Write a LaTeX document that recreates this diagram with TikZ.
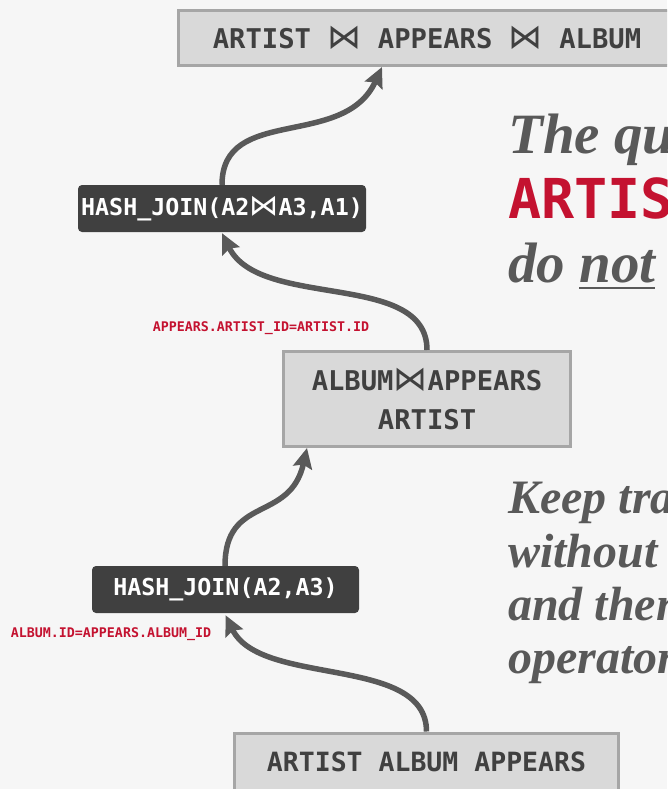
\documentclass[tikz,border=0pt]{standalone}
\usepackage{fontspec}
\setmainfont{Liberation Serif}
\setmonofont{DejaVu Sans Mono}
\newfontfamily\bowfont{DejaVu Sans}
\usetikzlibrary{arrows.meta,calc}

\definecolor{pagebg}{HTML}{F6F6F6}
\definecolor{boxfill}{HTML}{D9D9D9}
\definecolor{boxline}{HTML}{A6A6A6}
\definecolor{opfill}{HTML}{404040}
\definecolor{ink}{HTML}{404040}
\definecolor{note}{HTML}{595959}
\definecolor{keyred}{HTML}{C41230}
\definecolor{flowgray}{HTML}{595959}

% natural-join symbol, a little larger than the letters around it
\newcommand\jn{{\bowfont\mdseries\scalebox{1.25}{⋈}}}
% underline set a little below the baseline
\newcommand\ulword[1]{\setbox0\hbox{#1}\rlap{\raisebox{-7pt}{\rule{\wd0}{1.6pt}}}\box0}

\tikzset{
  relbox/.style={draw=boxline, line width=3pt, fill=boxfill, inner sep=0pt,
    text=ink, align=center,
    font=\ttfamily\bfseries\fontsize{27.2}{39}\selectfont},
  opbox/.style={fill=opfill, rounded corners=4pt, inner sep=0pt, text=white,
    font=\ttfamily\bfseries\fontsize{23.3}{28}\selectfont},
  predicate/.style={text=keyred, inner sep=0pt,
    font=\ttfamily\bfseries\fontsize{13.3}{16}\selectfont},
  flow/.style={draw=flowgray, line width=5.5pt,
    -{Stealth[length=20pt,width=19pt,inset=3pt]}},
  remark/.style={text=note, inner sep=0pt, anchor=base west,
    font=\bfseries\itshape\fontsize{57}{63}\selectfont},
  remarksmall/.style={remark, font=\bfseries\itshape\fontsize{48}{53}\selectfont},
  remarkcode/.style={text=keyred, inner sep=0pt, anchor=base west,
    font=\ttfamily\bfseries\fontsize{55}{63}\selectfont},
}

\begin{document}
\begin{tikzpicture}[x=1pt, y=-1pt]
  \path[use as bounding box] (0,0) rectangle (667,789);
  \clip (0,0) rectangle (667,789);
  \fill[pagebg] (0,0) rectangle (667,789);

  % relations and operators
  \node[relbox, minimum width=497pt, minimum height=55pt] (goal) at (427,38)
    {ARTIST \jn{} APPEARS \jn{} ALBUM};
  \node[opbox, minimum width=288pt, minimum height=47pt] (hjtop) at (222,208.5)
    {HASH\_JOIN(A2\jn A3,A1)};
  \node[relbox, minimum width=287pt, minimum height=95pt] (mid) at (427,399)
    {ALBUM\jn APPEARS\\ARTIST};
  \node[opbox, minimum width=267pt, minimum height=47pt] (hjlow) at (225.5,589.5)
    {HASH\_JOIN(A2,A3)};
  \node[relbox, minimum width=384pt, minimum height=57pt,
    font=\ttfamily\bfseries\fontsize{26.5}{32}\selectfont] (base) at (426.5,761.5)
    {ARTIST ALBUM APPEARS};

  % join predicates
  \node[predicate] (predtop) at (261,328) {APPEARS.ARTIST\_ID=ARTIST.ID};
  \node[predicate] (predlow) at (111,634) {ALBUM.ID=APPEARS.ALBUM\_ID};

  % arrow end points
  \coordinate (tipgoal) at ($(goal.south)+(-45,0)$);
  \coordinate (tiphjtop) at ($(hjtop.south)+(0,1)$);
  \coordinate (tipmid) at ($(mid.south)+(-120,0)$);
  \coordinate (tiphjlow) at ($(hjlow.south)+(0,2)$);

  % data flow, each an S-shaped curve
  \draw[flow] (base.north) .. controls +(0,-77) and +(35,72) .. (tiphjlow);
  \draw[flow] ($(hjlow.north)+(-0.5,0)$) .. controls +(0,-71) and +(-17,75) .. (tipmid);
  \draw[flow] (mid.north) .. controls +(0,-80) and +(38,77) .. (tiphjtop);
  \draw[flow] (hjtop.north) .. controls +(0,-80) and +(-38,83) .. (tipgoal);

  % side remarks
  \node[remark] (r1) at (508,153) {The query};
  \node[remarkcode] (r2) at (508,218) {ARTIST};
  \node[remark] (r3) at (508,282) {do \ulword{not}\ care};
  \node[remarksmall] (r4) at (508,513) {Keep track};
  \node[remarksmall] (r5) at (508,567) {without};
  \node[remarksmall] (r6) at (508,620) {and then};
  \node[remarksmall] (r7) at (508,673) {operator};
\end{tikzpicture}
\end{document}
